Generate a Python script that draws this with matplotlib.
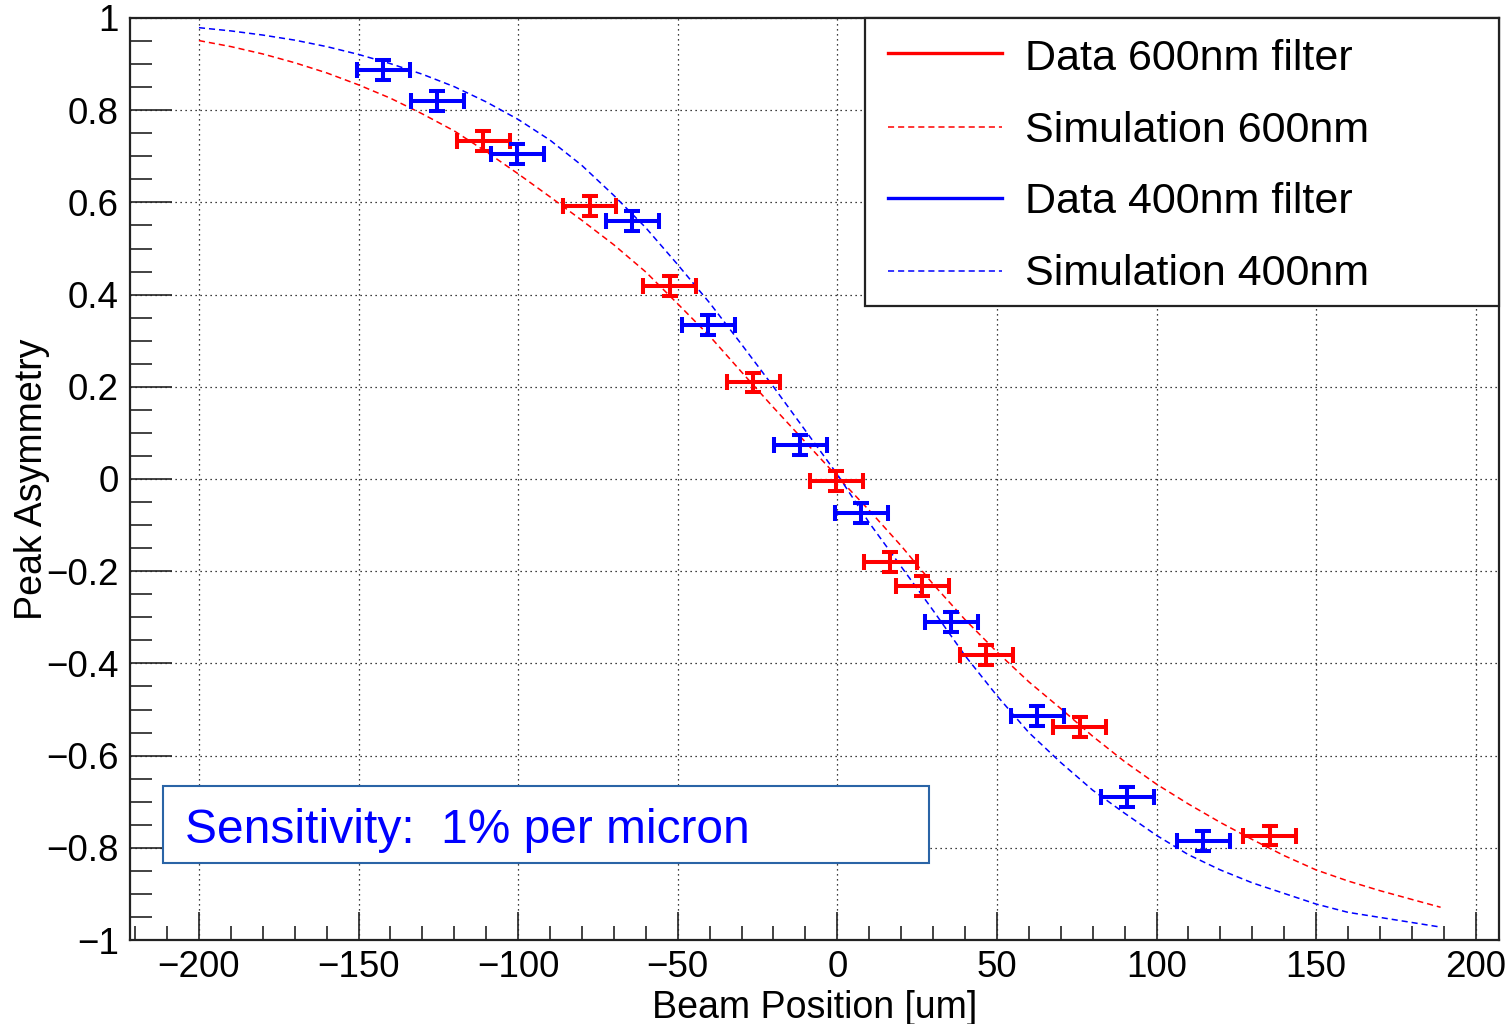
import matplotlib
matplotlib.use("Agg")
import matplotlib.pyplot as plt
from matplotlib.ticker import MultipleLocator, FuncFormatter
from matplotlib.patches import Rectangle

plt.rcParams['font.family'] = ['Liberation Sans', 'DejaVu Sans']

# ---- data ----
red_x = [-111, -77.5, -52.5, -26.3, -0.3, 16.6, 26.6, 46.7, 75.9, 135.4]
red_y = [0.733, 0.592, 0.419, 0.21, -0.004, -0.18, -0.232, -0.382, -0.538, -0.774]
blue_x = [-142.3, -125.4, -100.3, -64.3, -40.4, -11.6, 7.5, 35.7, 62.7, 90.9, 114.7]
blue_y = [0.887, 0.82, 0.705, 0.56, 0.334, 0.074, -0.074, -0.31, -0.514, -0.69, -0.785]
x_err = 8.3
y_err = 0.021

sim_red_x = [-200, -190, -180, -170, -160, -150, -140, -130, -120, -110, -100, -90, -80,
             -70, -60, -50, -40, -30, -20, -10, 0, 10, 20, 30, 40, 50, 60, 70, 80, 90,
             100, 110, 120, 130, 140, 150, 160, 170, 180, 189]
sim_red_y = [0.951, 0.938, 0.922, 0.903, 0.881, 0.855, 0.826, 0.792, 0.755, 0.71, 0.662,
             0.612, 0.561, 0.508, 0.449, 0.38, 0.31, 0.232, 0.155, 0.08, 0.005, -0.068,
             -0.145, -0.228, -0.305, -0.375, -0.44, -0.498, -0.558, -0.613, -0.662,
             -0.705, -0.745, -0.782, -0.817, -0.848, -0.872, -0.893, -0.912, -0.929]
sim_blue_x = [-200, -190, -180, -170, -160, -150, -140, -130, -120, -110, -100, -90, -80,
              -70, -60, -50, -40, -30, -20, -10, 0, 10, 20, 30, 40, 50, 60, 70, 80, 90,
              100, 110, 120, 130, 140, 150, 160, 170, 180, 189]
sim_blue_y = [0.979, 0.972, 0.963, 0.952, 0.938, 0.921, 0.901, 0.878, 0.851, 0.818, 0.78,
              0.735, 0.68, 0.615, 0.545, 0.465, 0.382, 0.292, 0.2, 0.105, 0.01, -0.095,
              -0.19, -0.285, -0.383, -0.47, -0.55, -0.615, -0.675, -0.725, -0.773,
              -0.815, -0.848, -0.876, -0.899, -0.922, -0.94, -0.951, -0.962, -0.972]

legend_labels = ["Data 600nm filter", "Simulation 600nm", "Data 400nm filter", "Simulation 400nm"]
annotation = "Sensitivity:  1% per micron"
x_label = "Beam Position [um]"
y_label = "Peak Asymmetry"

RED = "#ff0000"
BLUE = "#0000ff"
DASH = (0, (4, 2.6))

fig = plt.figure(figsize=(15.12, 10.24), dpi=100)
ax = fig.add_axes([130 / 1512, 1 - 940 / 1024, 1369 / 1512, 922 / 1024])

ax.set_xlim(-221.6, 207.3)
ax.set_ylim(-1, 1)

# grid
ax.grid(True, which='major', color='black', linestyle=(0, (1, 3)), linewidth=0.9)
ax.set_axisbelow(True)

# simulation curves
ax.plot(sim_red_x, sim_red_y, color=RED, lw=1.1, linestyle=DASH, zorder=3)
ax.plot(sim_blue_x, sim_blue_y, color=BLUE, lw=1.1, linestyle=DASH, zorder=3)

# data
ax.errorbar(red_x, red_y, xerr=x_err, yerr=y_err, fmt='none', ecolor=RED,
            elinewidth=2.9, capsize=6, capthick=2.9, zorder=4)
ax.errorbar(blue_x, blue_y, xerr=x_err, yerr=y_err, fmt='none', ecolor=BLUE,
            elinewidth=2.9, capsize=6, capthick=2.9, zorder=4)

# ticks
ax.xaxis.set_major_locator(MultipleLocator(50))
ax.xaxis.set_minor_locator(MultipleLocator(10))
ax.yaxis.set_major_locator(MultipleLocator(0.2))
ax.yaxis.set_minor_locator(MultipleLocator(0.05))

def fmt(v, pos):
    if abs(v) < 1e-9:
        return "0"
    s = ("%.1f" % v).rstrip('0').rstrip('.')
    return s.replace('-', '\u2212')

ax.xaxis.set_major_formatter(FuncFormatter(lambda v, p: ("%d" % round(v)).replace('-', '\u2212')))
ax.yaxis.set_major_formatter(FuncFormatter(fmt))

ax.tick_params(axis='both', which='both', direction='in', top=False, right=False,
               width=1.2, colors='#222222', labelcolor='black', labelsize=26.5)
ax.tick_params(axis='x', which='major', length=20, pad=7)
ax.tick_params(axis='x', which='minor', length=10)
ax.tick_params(axis='y', which='major', length=30, pad=8)
ax.tick_params(axis='y', which='minor', length=16)

for sp in ax.spines.values():
    sp.set_linewidth(1.6)
    sp.set_color('#222222')
    sp.set_zorder(6)

ax.set_xlabel(x_label, fontsize=27, labelpad=4)
ax.set_ylabel(y_label, fontsize=27)
ax.yaxis.set_label_coords((50 - 130) / 1369, 0.5)

# legend box (manual, ROOT style)
leg_x0 = (865 - 130) / 1369
leg_y0 = (940 - 306) / 922
ax.add_patch(Rectangle((leg_x0, leg_y0), 1 - leg_x0, 1 - leg_y0, transform=ax.transAxes,
                       facecolor='white', edgecolor='#222222', lw=1.6, zorder=7, clip_on=False))
line_x0 = (888 - 130) / 1369
line_x1 = (1002 - 130) / 1369
text_x = (1025 - 130) / 1369
line_ys = [(940 - 53) / 922, (940 - 127) / 922, (940 - 198) / 922, (940 - 271) / 922]
base_ys = [(940 - 70) / 922, (940 - 142) / 922, (940 - 213) / 922, (940 - 285) / 922]
styles = [(RED, '-', 2.4), (RED, DASH, 1.1), (BLUE, '-', 2.4), (BLUE, DASH, 1.1)]
for (c, ls, lw), ly, by, lab in zip(styles, line_ys, base_ys, legend_labels):
    ax.plot([line_x0, line_x1], [ly, ly], transform=ax.transAxes, color=c, linestyle=ls,
            lw=lw, zorder=8, clip_on=False)
    ax.text(text_x, by, lab, transform=ax.transAxes, fontsize=31, va='baseline',
            ha='left', zorder=8)

# sensitivity box
bx0 = (163 - 130) / 1369
bx1 = (929 - 130) / 1369
by0 = (940 - 863) / 922
by1 = (940 - 786) / 922
ax.add_patch(Rectangle((bx0, by0), bx1 - bx0, by1 - by0, transform=ax.transAxes,
                       facecolor='white', edgecolor='#2a64a6', lw=1.5, zorder=7))
ax.text((185 - 130) / 1369, (940 - 843) / 922, annotation, transform=ax.transAxes,
        fontsize=34.5, color=BLUE, va='baseline', ha='left', zorder=8)

fig.savefig("out.png", dpi=100)
